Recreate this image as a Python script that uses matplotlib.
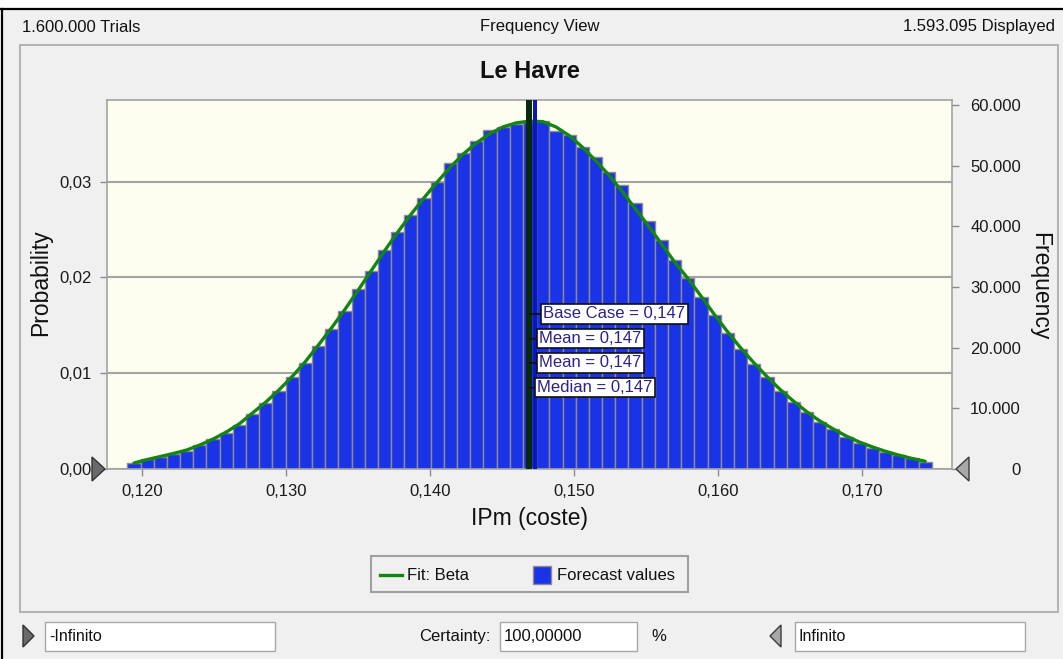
import numpy as np
import matplotlib.pyplot as plt
from matplotlib.patches import Rectangle, Polygon
from matplotlib.lines import Line2D
from matplotlib.ticker import FuncFormatter

plt.rcParams['font.family'] = ['Liberation Sans', 'DejaVu Sans']

W, H = 1063, 659

# histogram (probability per bin)
bin_start = 0.1190
bin_width = 0.000915
probability = [
    0.00066, 0.00101, 0.00122, 0.00157, 0.00188, 0.00250, 0.00313, 0.00379,
    0.00459, 0.00574, 0.00685, 0.00814, 0.00960, 0.01103, 0.01284, 0.01458,
    0.01652, 0.01875, 0.02069, 0.02285, 0.02477, 0.02651, 0.02828, 0.02998,
    0.03196, 0.03294, 0.03423, 0.03540, 0.03564, 0.03604, 0.03625, 0.03627,
    0.03532, 0.03489, 0.03363, 0.03256, 0.03103, 0.02964, 0.02773, 0.02588,
    0.02390, 0.02181, 0.01996, 0.01798, 0.01607, 0.01421, 0.01252, 0.01092,
    0.00963, 0.00817, 0.00702, 0.00591, 0.00494, 0.00417, 0.00337, 0.00275,
    0.00223, 0.00181, 0.00146, 0.00111, 0.00076,
]

# Beta fit curve, value at each bin centre
fit_p = [
    0.00062, 0.00098, 0.00130, 0.00162, 0.00198, 0.00250, 0.00312, 0.00385,
    0.00472, 0.00585, 0.00698, 0.00825, 0.00965, 0.01120, 0.01295, 0.01475,
    0.01665, 0.01865, 0.02070, 0.02275, 0.02470, 0.02655, 0.02830, 0.02995,
    0.03150, 0.03290, 0.03405, 0.03500, 0.03570, 0.03612, 0.03630, 0.03625,
    0.03570, 0.03480, 0.03360, 0.03220, 0.03070, 0.02900, 0.02720, 0.02540,
    0.02350, 0.02160, 0.01990, 0.01805, 0.01615, 0.01435, 0.01265, 0.01110,
    0.00965, 0.00830, 0.00710, 0.00600, 0.00502, 0.00420, 0.00345, 0.00282,
    0.00230, 0.00184, 0.00145, 0.00110, 0.00080,
]

base_case = 0.1469
mean_value = 0.1473
marker_labels = ['Base Case = 0,147', 'Mean = 0,147', 'Mean = 0,147', 'Median = 0,147']

x_ticks = [0.120, 0.130, 0.140, 0.150, 0.160, 0.170]
prob_ticks = [0.00, 0.01, 0.02, 0.03]
freq_ticks = [0, 10000, 20000, 30000, 40000, 50000, 60000]
freq_per_prob = 1.58e6

trials_text = '1.600.000 Trials'
displayed_text = '1.593.095 Displayed'


def fx(x):
    return x / W


def fy(y):
    return 1 - y / H


def box(x0, y0, x1, y1, **kw):
    r = Rectangle((fx(x0), fy(y1)), (x1 - x0) / W, (y1 - y0) / H,
                  transform=fig.transFigure, **kw)
    fig.add_artist(r)
    return r


def tri(points, **kw):
    p = Polygon([(fx(a), fy(b)) for a, b in points], closed=True,
                transform=fig.transFigure, **kw)
    fig.add_artist(p)


fig = plt.figure(figsize=(W / 100, H / 100), dpi=100)
fig.patch.set_facecolor('white')

# window frame
box(3, 9, W + 5, H + 5, facecolor='#f0f0f0', edgecolor='none', zorder=-10)
fig.add_artist(Line2D([0, 1], [fy(9), fy(9)], color='black', lw=1.6,
                      transform=fig.transFigure, zorder=-9))
fig.add_artist(Line2D([fx(2), fx(2)], [fy(9), 0], color='black', lw=1.6,
                      transform=fig.transFigure, zorder=-9))
box(20, 45, 1058, 612, facecolor='none', edgecolor='#a8a8a8', lw=1.2, zorder=-8)

fig.text(fx(22), fy(27), trials_text, fontsize=12, color='#111111', va='center', ha='left')
fig.text(fx(540), fy(27), 'Frequency View', fontsize=12, color='#111111', va='center', ha='center')
fig.text(fx(1055), fy(27), displayed_text, fontsize=12, color='#111111', va='center', ha='right')

# chart
ax = fig.add_axes([fx(107), fy(469), (952 - 107) / W, (469 - 100) / H])
ax.set_facecolor('#fdfdf0')
edges = bin_start + bin_width * np.arange(len(probability))
centres = edges + bin_width / 2
ax.bar(edges, probability, width=bin_width, align='edge', color='#1b33e6',
       edgecolor='#8c8c8c', linewidth=1.0, zorder=2)
ax.plot(centres, fit_p, color='#138513', lw=2.4, zorder=3, solid_capstyle='round')
ax.axvline(base_case, color='#07290d', lw=4.3, zorder=4)
ax.axvline(mean_value, color='#0b18b4', lw=2.9, zorder=4)

ax.set_xlim(0.11759, 0.17622)
ax.set_ylim(0, 0.038506)
ax.set_xticks(x_ticks)
ax.set_yticks(prob_ticks)
ax.xaxis.set_major_formatter(FuncFormatter(lambda v, _: f'{v:.3f}'.replace('.', ',')))
ax.yaxis.set_major_formatter(FuncFormatter(lambda v, _: f'{v:.2f}'.replace('.', ',')))
ax.grid(axis='y', color='#a3a3a3', lw=1.5)
ax.set_axisbelow(True)
for s in ax.spines.values():
    s.set_color('#a3a3a3')
    s.set_linewidth(1.2)
ax.tick_params(axis='both', colors='#8a8a8a', labelcolor='#1a1a1a', labelsize=12,
               length=5, width=1)
ax.tick_params(axis='x', pad=6)
ax.tick_params(axis='y', pad=6)

ax.set_title('Le Havre', fontsize=17, fontweight='bold', color='#111111', pad=16)
ax.set_xlabel('IPm (coste)', fontsize=16.5, color='#111111')
ax.xaxis.set_label_coords(0.5, -0.103)
ax.set_ylabel('Probability', fontsize=16.5, color='#111111')
ax.yaxis.set_label_coords(-0.065, 0.504)

ax2 = ax.twinx()
ax2.set_ylim(0, 0.038506 * freq_per_prob)
ax2.set_yticks(freq_ticks)
ax2.yaxis.set_major_formatter(FuncFormatter(lambda v, _: f'{int(v):,}'.replace(',', '.')))
ax2.tick_params(axis='y', colors='#8a8a8a', labelcolor='#1a1a1a', labelsize=12,
                length=5, width=1, pad=44.6)
for t in ax2.get_yticklabels():
    t.set_horizontalalignment('right')
for s in ax2.spines.values():
    s.set_visible(False)
ax2.set_ylabel('Frequency', fontsize=16.5, color='#111111', rotation=-90, va='bottom')
ax2.yaxis.set_label_coords(1.090, 0.496)

# marker labels
label_y = [0.4201, 0.3531, 0.2873, 0.2203]
label_dx = [14, 10, 10, 8]
for text, yy, dx in zip(marker_labels, label_y, label_dx):
    ax.annotate(text, xy=(base_case, yy), xycoords=('data', 'axes fraction'),
                xytext=(dx, 0), textcoords='offset pixels', ha='left', va='center',
                fontsize=12, color='#2a2288', zorder=6,
                bbox=dict(boxstyle='square,pad=0.13', fc='white', ec='#111111', lw=1.2),
                arrowprops=dict(arrowstyle='-', color='#111111', lw=1.3,
                                shrinkA=0, shrinkB=0))

# end-point sliders
tri([(92, 457), (105, 469), (92, 481)], facecolor='#6a6a6a', edgecolor='#333333', lw=1, zorder=5)
tri([(969, 457), (956, 469), (969, 481)], facecolor='#a8a8a8', edgecolor='#3a3a3a', lw=1, zorder=5)

# legend
box(371, 556, 688, 592, facecolor='#f0f0f0', edgecolor='#a0a0a0', lw=1.5, zorder=1)
fig.add_artist(Line2D([fx(380), fx(402)], [fy(575), fy(575)], color='#138513', lw=2.4,
                      transform=fig.transFigure, zorder=2))
fig.text(fx(407), fy(575), 'Fit: Beta', fontsize=12, color='#111111', va='center', ha='left')
box(533, 566, 551, 584, facecolor='#1b33e6', edgecolor='#8c8c8c', lw=1, zorder=2)
fig.text(fx(557), fy(575), 'Forecast values', fontsize=12, color='#111111', va='center', ha='left')

# certainty controls
tri([(23, 625), (34, 636), (23, 647)], facecolor='#6a6a6a', edgecolor='#333333', lw=1, zorder=2)
box(45, 622, 275, 651, facecolor='white', edgecolor='#a8a8a8', lw=1, zorder=1)
fig.text(fx(49), fy(636.5), '-Infinito', fontsize=11.5, color='#111111', va='center', ha='left')
fig.text(fx(490), fy(636.5), 'Certainty:', fontsize=12, color='#111111', va='center', ha='right')
box(500, 622, 637, 651, facecolor='white', edgecolor='#a8a8a8', lw=1, zorder=1)
fig.text(fx(504), fy(636.5), '100,00000', fontsize=12, color='#111111', va='center', ha='left')
fig.text(fx(651), fy(636.5), '%', fontsize=12, color='#111111', va='center', ha='left')
tri([(781, 625), (770, 636), (781, 647)], facecolor='#a8a8a8', edgecolor='#3a3a3a', lw=1, zorder=2)
box(795, 622, 1025, 651, facecolor='white', edgecolor='#a8a8a8', lw=1, zorder=1)
fig.text(fx(799), fy(636.5), 'Infinito', fontsize=11.5, color='#111111', va='center', ha='left')

fig.savefig('out.png', dpi=100)
